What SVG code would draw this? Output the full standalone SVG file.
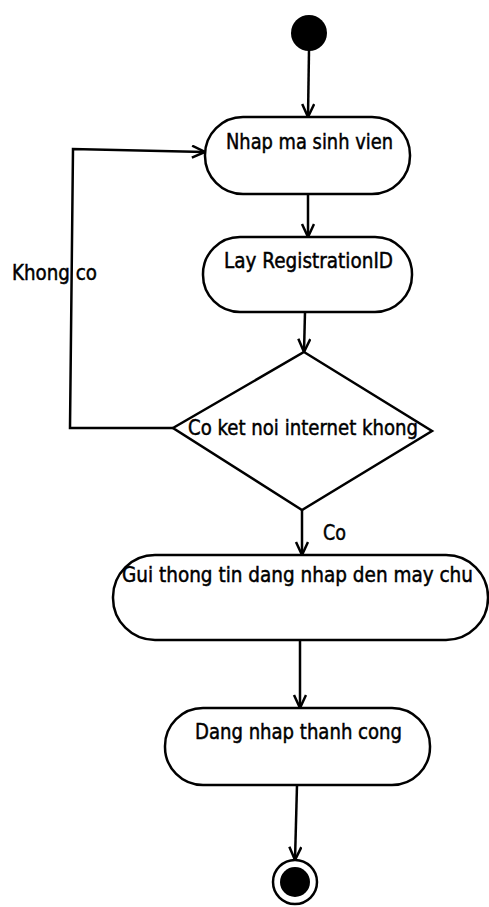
<svg xmlns="http://www.w3.org/2000/svg" width="489" height="907" viewBox="0 0 489 907">
<style>
.n{fill:#fff;stroke:#000;stroke-width:2.5}
.c{fill:none;stroke:#000;stroke-width:2.5;marker-end:url(#a)}
text{font-family:"DejaVu Sans","Liberation Sans",sans-serif;font-size:21px;fill:#000;stroke:#000;stroke-width:0.5}
</style>
<defs>
<marker id="a" markerWidth="16" markerHeight="16" refX="14" refY="7" orient="auto" markerUnits="userSpaceOnUse">
<path d="M1,1 L14,7 L1,13" fill="none" stroke="#000" stroke-width="2.5"/>
</marker>
</defs>
<g id="connectors">
<path class="c" d="M309,50 L308,117"/>
<path class="c" d="M308,194 L308,237"/>
<path class="c" d="M305,312 L304,352"/>
<path class="c" d="M173,428 L70,428 L73,149 L205,152"/>
<path class="c" d="M302,510 L302,555"/>
<path class="c" d="M300,640 L300,708"/>
<path class="c" d="M297,785 L295,860"/>
<text x="12" y="280" textLength="85" lengthAdjust="spacingAndGlyphs">Khong co</text>
<text x="323" y="540" textLength="23" lengthAdjust="spacingAndGlyphs">Co</text>
</g>
<g id="start"><circle cx="309" cy="33" r="18" fill="#000"/></g>
<g id="n1"><rect class="n" x="205" y="117" width="205" height="77" rx="38"/><text x="226" y="149" textLength="167" lengthAdjust="spacingAndGlyphs">Nhap ma sinh vien</text></g>
<g id="n2"><rect class="n" x="203" y="237" width="209" height="75" rx="37"/><text x="224" y="268" textLength="169" lengthAdjust="spacingAndGlyphs">Lay RegistrationID</text></g>
<g id="d"><polygon class="n" points="304,352 432,431 302,510 173,428"/><text x="188" y="435" textLength="230" lengthAdjust="spacingAndGlyphs">Co ket noi internet khong</text></g>
<g id="n3"><rect class="n" x="113" y="555" width="375" height="85" rx="42"/><text x="122" y="582" textLength="351" lengthAdjust="spacingAndGlyphs">Gui thong tin dang nhap den may chu</text></g>
<g id="n4"><rect class="n" x="165" y="708" width="265" height="77" rx="38"/><text x="195" y="739" textLength="207" lengthAdjust="spacingAndGlyphs">Dang nhap thanh cong</text></g>
<g id="end"><circle cx="295" cy="882" r="22" fill="#fff" stroke="#000" stroke-width="2.5"/><circle cx="295" cy="882" r="15" fill="#000"/></g>
</svg>
